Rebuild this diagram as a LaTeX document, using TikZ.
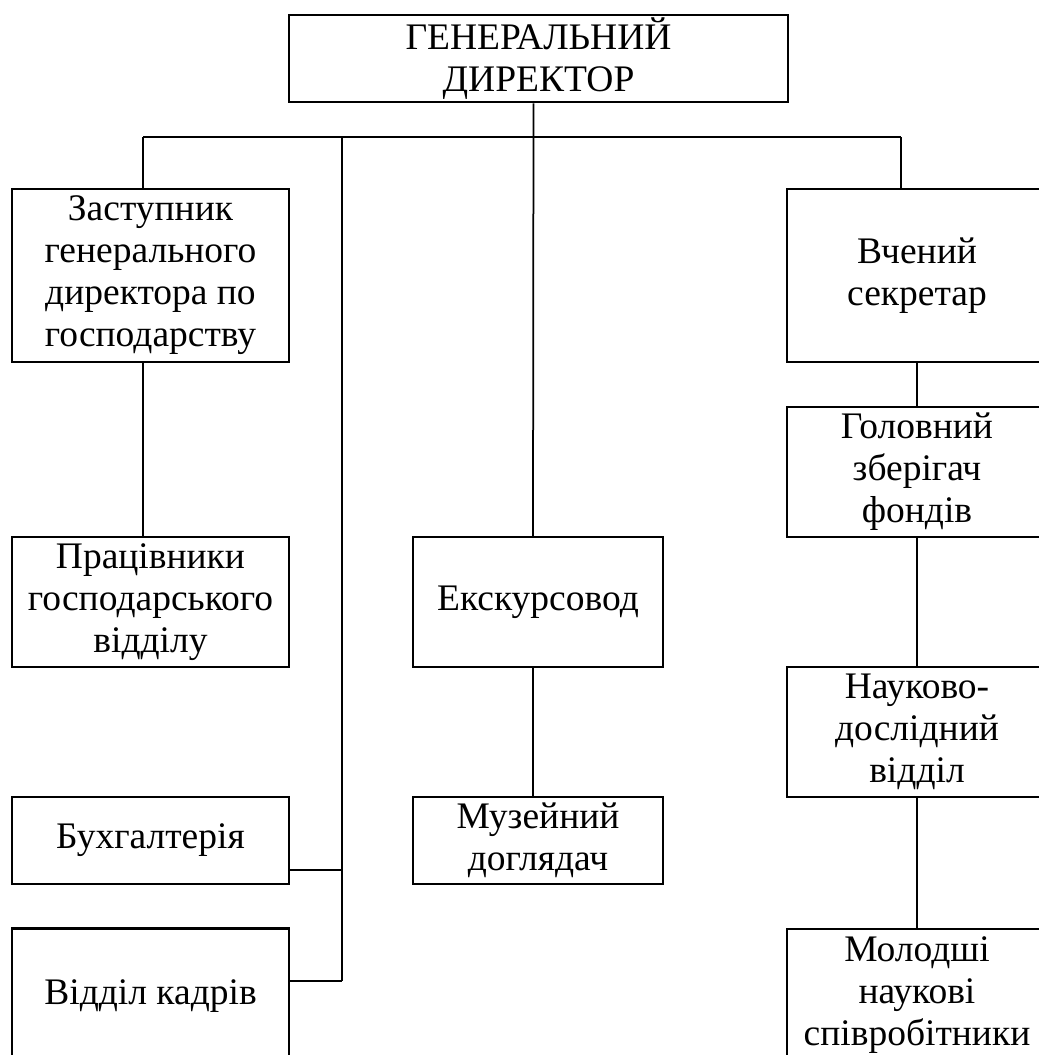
\documentclass[tikz,border=0pt]{standalone}
\usepackage{fontspec}
\setmainfont{Liberation Serif}
\usepackage{tikz}
\usetikzlibrary{calc}
\usetikzlibrary{positioning}
\tikzstyle{unitbox} = [draw, rectangle, line width=1pt, inner sep=0pt, align=center, font=\fontsize{15}{16.8}\selectfont]
\tikzstyle{widebox} = [unitbox, minimum width=110.8pt]
\tikzstyle{midbox} = [unitbox, minimum width=100pt]
\tikzstyle{rightbox} = [unitbox, minimum width=104pt]
\tikzstyle{link} = [line width=0.7pt]

\begin{document}
\begin{tikzpicture}[x=0.4pt,y=-0.4pt]
\useasboundingbox (0,0) rectangle (1039,1055);
% top
\node[unitbox, minimum width=199.6pt, minimum height=34.8pt] (gen) at (538.5,58.5) {ГЕНЕРАЛЬНИЙ\\ДИРЕКТОР};
% left column
\node[widebox, minimum height=69.2pt] (zast) at (150.5,275.5) {Заступник\\генерального\\директора по\\господарству};
\node[widebox, minimum height=52pt] (prac) at (150.5,602) {Працівники\\господарського\\відділу};
\node[widebox, minimum height=34.8pt] (buh) at (150.5,840.5) {Бухгалтерія};
\node[widebox, minimum height=54pt] (kadr) at (150.5,996) {Відділ кадрів};
% middle column
\node[midbox, minimum height=52pt] (eksk) at (538,602) {Екскурсовод};
\node[midbox, minimum height=34.8pt] (muz) at (538,840.5) {Музейний\\доглядач};
% right column
\node[rightbox, minimum height=69.2pt] (vchen) at (917,275.5) {Вчений\\секретар};
\node[rightbox, minimum height=52pt] (holov) at (917,472) {Головний\\зберігач\\фондів};
\node[rightbox, minimum height=52pt] (nauk) at (917,732) {Науково-\\дослідний\\відділ};
\node[rightbox, minimum height=52.8pt] (molod) at (917,995) {Молодші\\наукові\\співробітники};

\coordinate (busL) at (143,137);
\coordinate (busR) at (901,137);
\coordinate (spine) at (342,137);
\coordinate (buhin) at (342,870);
\coordinate (kadrin) at (342,981);

\draw[link] ([xshift=-2pt]gen.south) -- ([xshift=-2pt]eksk.north);
\draw[link] (busL) -- (busR);
\draw[link] (busL) -- (busL |- zast.north);
\draw[link] (busR) -- (busR |- vchen.north);
\draw[link] (busL |- zast.south) -- (busL |- prac.north);
\draw[link] (spine) -- (kadrin);
\draw[link] (buh.east |- buhin) -- (buhin);
\draw[link] (kadr.east |- kadrin) -- (kadrin);
\draw[link] ([xshift=-2pt]eksk.south) -- ([xshift=-2pt]muz.north);
\draw[link] (vchen.south) -- (holov.north);
\draw[link] (holov.south) -- (nauk.north);
\draw[link] (nauk.south) -- (molod.north);
\end{tikzpicture}
\end{document}
